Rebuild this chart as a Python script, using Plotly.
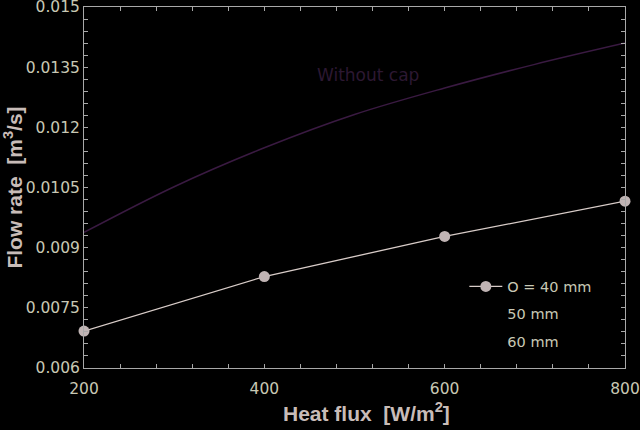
import plotly.graph_objects as go

heat_flux = [200, 400, 600, 800]
flow_40mm = [0.00692, 0.00828, 0.00928, 0.01016]

heat_flux_nocap = [200, 300, 400, 500, 600, 700, 800]
flow_nocap = [0.00938, 0.01052, 0.01149, 0.01232, 0.01298, 0.01357, 0.01410]

y_ticks = [0.006, 0.0075, 0.009, 0.0105, 0.012, 0.0135, 0.015]
y_ticktext = ["0.006", "0.0075", "0.009", "0.0105", "0.012", "0.0135", "0.015"]
x_ticks = [200, 400, 600, 800]

tick_col = "#c8c8b4"
title_col = "#c8bcb8"
axis_col = "#a8a8a8"
tick_font = "DejaVu Sans"
title_font = "Liberation Sans, Arial"

fig = go.Figure()
fig.add_trace(go.Scatter(
    x=heat_flux_nocap, y=flow_nocap, mode="lines",
    line=dict(color="#3a1a42", width=1.5, shape="spline"),
    showlegend=False))
fig.add_trace(go.Scatter(
    x=heat_flux, y=flow_40mm, mode="lines+markers",
    line=dict(color="#d8ccc8", width=1.3),
    marker=dict(color="#c0b4b4", size=11),
    name="O = 40 mm", legendgroup="a", cliponaxis=False))
fig.add_trace(go.Scatter(
    x=[None], y=[None], mode="lines", line=dict(color="#000000", width=1),
    name="50 mm", legendgroup="b"))
fig.add_trace(go.Scatter(
    x=[None], y=[None], mode="lines", line=dict(color="#000000", width=1),
    name="60 mm", legendgroup="c"))

fig.add_annotation(x=515, y=0.01331, xref="x", yref="y", text="Without cap",
                   showarrow=False, font=dict(family=tick_font, size=17, color="#2c1832"))

# x-axis title placed as annotation to match its slightly off-centre position
fig.add_annotation(x=(366 - 84) / 541, y=-(412 - 368) / 361, xref="paper", yref="paper",
                   yanchor="middle", xanchor="center", showarrow=False,
                   text="<b>Heat flux  [W/m<sup>2</sup>]</b>",
                   font=dict(family=title_font, size=21, color=title_col))

fig.update_layout(
    width=640, height=430,
    paper_bgcolor="#000000", plot_bgcolor="#000000",
    margin=dict(l=84, r=15, t=7, b=62, autoexpand=False),
    font=dict(family=tick_font, color=tick_col),
    legend=dict(x=0.703, y=0.270, xanchor="left", yanchor="top",
                bgcolor="rgba(0,0,0,0)", font=dict(family=tick_font, size=14.5, color=tick_col),
                tracegroupgap=5.5, itemwidth=33),
    xaxis=dict(range=[200, 800], tickvals=x_ticks, ticks="inside", ticklen=4,
               tickcolor=axis_col, showline=True, linecolor=axis_col, linewidth=1,
               mirror="allticks", showgrid=False, zeroline=False, automargin=False,
               ticklabeloverflow="allow", ticklabelstandoff=6,
               tickfont=dict(family=tick_font, size=15.5, color=tick_col),
               minor=dict(ticks="inside", dtick=40, ticklen=4, tickcolor=axis_col, showgrid=False)),
    yaxis=dict(range=[0.006, 0.015], tickvals=y_ticks, ticktext=y_ticktext,
               ticks="inside", ticklen=4, tickcolor=axis_col, showline=True,
               linecolor=axis_col, linewidth=1, mirror="allticks", showgrid=False,
               zeroline=False, automargin=False, ticklabeloverflow="allow",
               tickfont=dict(family=tick_font, size=15.5, color=tick_col),
               minor=dict(ticks="inside", dtick=0.0003, tick0=0.006, ticklen=4, tickcolor=axis_col, showgrid=False),
               title=dict(text="<b>Flow rate  [m<sup>3</sup>/s]</b>", standoff=13,
                          font=dict(family=title_font, size=21, color=title_col))),
)

fig.write_html("out.html", config={"displayModeBar": False},
               post_script="document.body.style.margin='0';document.body.style.background='#000';")
